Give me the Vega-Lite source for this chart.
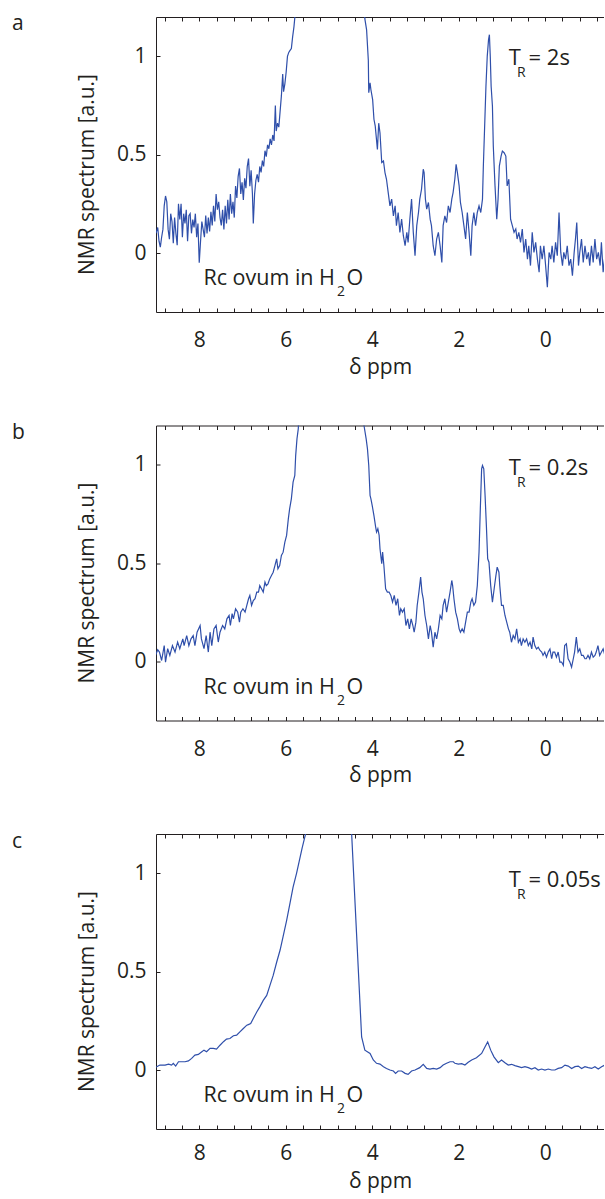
{
  "$schema": "https://vega.github.io/schema/vega-lite/v6.json",
  "usermeta": {"embedOptions": {"actions": false}},
  "autosize": {"type": "pad"},
  "padding": {"left": 12, "top": 13, "right": 0, "bottom": 3},
  "background": "white",
  "spacing": 113.5,
  "bounds": "flush",
  "config": {
    "view": {"stroke": null},
    "font": "Open Sans",
    "text": {"font": "Open Sans", "color": "#231F20"},
    "title": {"font": "Open Sans", "fontSize": 21, "fontWeight": "normal", "color": "#231F20"},
    "axis": {
      "domainColor": "#231F20", "domainWidth": 1, "tickColor": "#231F20", "tickWidth": 1, "tickSize": -4,
      "grid": false, "labelFont": "Open Sans", "labelFontSize": 21, "labelColor": "#231F20",
      "labelFlush": false, "labelOverlap": false, "titleFont": "Open Sans", "titleFontSize": 21,
      "titleFontWeight": "normal", "titleColor": "#231F20"
    }
  },
  "datasets": {
    "a": [
      {"ppm":9.00,"v":0.10},{"ppm":8.96,"v":0.13},{"ppm":8.93,"v":0.06},{"ppm":8.90,"v":0.03},{"ppm":8.87,"v":0.08},{"ppm":8.84,"v":0.12},{"ppm":8.81,"v":0.24},{"ppm":8.78,"v":0.29},{"ppm":8.75,"v":0.26},{"ppm":8.72,"v":0.12},{"ppm":8.69,"v":0.07},{"ppm":8.66,"v":0.20},{"ppm":8.63,"v":0.16},{"ppm":8.60,"v":0.05},{"ppm":8.57,"v":0.18},{"ppm":8.54,"v":0.10},{"ppm":8.51,"v":0.04},{"ppm":8.48,"v":0.25},{"ppm":8.45,"v":0.17},{"ppm":8.42,"v":0.25},{"ppm":8.39,"v":0.08},{"ppm":8.36,"v":0.20},{"ppm":8.33,"v":0.15},{"ppm":8.30,"v":0.22},{"ppm":8.27,"v":0.06},{"ppm":8.24,"v":0.19},{"ppm":8.21,"v":0.20},{"ppm":8.18,"v":0.10},{"ppm":8.15,"v":0.17},{"ppm":8.12,"v":0.13},{"ppm":8.09,"v":0.20},{"ppm":8.06,"v":0.08},{"ppm":8.03,"v":0.15},{"ppm":8.00,"v":-0.05},{"ppm":7.97,"v":0.06},{"ppm":7.94,"v":0.16},{"ppm":7.91,"v":0.12},{"ppm":7.88,"v":0.08},{"ppm":7.85,"v":0.19},{"ppm":7.82,"v":0.10},{"ppm":7.79,"v":0.18},{"ppm":7.76,"v":0.11},{"ppm":7.73,"v":0.21},{"ppm":7.70,"v":0.14},{"ppm":7.67,"v":0.24},{"ppm":7.64,"v":0.16},{"ppm":7.61,"v":0.30},{"ppm":7.58,"v":0.22},{"ppm":7.55,"v":0.26},{"ppm":7.52,"v":0.18},
      {"ppm":7.49,"v":0.14},{"ppm":7.46,"v":0.22},{"ppm":7.43,"v":0.12},{"ppm":7.40,"v":0.24},{"ppm":7.37,"v":0.15},{"ppm":7.34,"v":0.27},{"ppm":7.31,"v":0.17},{"ppm":7.28,"v":0.30},{"ppm":7.25,"v":0.20},{"ppm":7.22,"v":0.26},{"ppm":7.19,"v":0.18},{"ppm":7.16,"v":0.34},{"ppm":7.13,"v":0.28},{"ppm":7.10,"v":0.39},{"ppm":7.07,"v":0.43},{"ppm":7.04,"v":0.30},{"ppm":7.01,"v":0.36},{"ppm":6.98,"v":0.27},{"ppm":6.95,"v":0.38},{"ppm":6.92,"v":0.33},{"ppm":6.89,"v":0.44},{"ppm":6.86,"v":0.48},{"ppm":6.83,"v":0.34},{"ppm":6.80,"v":0.42},{"ppm":6.77,"v":0.30},{"ppm":6.75,"v":0.15},{"ppm":6.72,"v":0.30},{"ppm":6.69,"v":0.37},{"ppm":6.66,"v":0.40},{"ppm":6.63,"v":0.36},{"ppm":6.60,"v":0.44},{"ppm":6.57,"v":0.41},{"ppm":6.54,"v":0.47},{"ppm":6.51,"v":0.44},{"ppm":6.48,"v":0.52},{"ppm":6.45,"v":0.49},{"ppm":6.42,"v":0.55},{"ppm":6.39,"v":0.53},{"ppm":6.36,"v":0.58},{"ppm":6.33,"v":0.55},{"ppm":6.30,"v":0.60},{"ppm":6.27,"v":0.57},{"ppm":6.24,"v":0.75},{"ppm":6.22,"v":0.62},{"ppm":6.19,"v":0.66},{"ppm":6.16,"v":0.64},{"ppm":6.13,"v":0.72},{"ppm":6.10,"v":0.80},{"ppm":6.07,"v":0.91},{"ppm":6.05,"v":0.82},{"ppm":6.02,"v":0.86},{"ppm":5.99,"v":0.92},{"ppm":5.96,"v":1.00},{"ppm":5.93,"v":1.02},{"ppm":5.90,"v":1.03},{"ppm":5.87,"v":1.04},{"ppm":5.84,"v":1.10},{"ppm":5.81,"v":1.15},{"ppm":5.78,"v":1.22},{"ppm":5.74,"v":1.35},{"ppm":5.70,"v":1.6},
      {"ppm":5.6,"v":2.2},{"ppm":5.3,"v":4.0},{"ppm":5.0,"v":6.0},{"ppm":4.7,"v":5.0},{"ppm":4.4,"v":2.5},{"ppm":4.25,"v":1.5},
      {"ppm":4.17,"v":1.19},{"ppm":4.13,"v":1.135},{"ppm":4.09,"v":0.98},{"ppm":4.08,"v":0.815},{"ppm":4.05,"v":0.865},{"ppm":4.03,"v":0.83},{"ppm":3.99,"v":0.78},{"ppm":3.96,"v":0.68},{"ppm":3.93,"v":0.645},{"ppm":3.88,"v":0.527},{"ppm":3.85,"v":0.66},{"ppm":3.82,"v":0.61},{"ppm":3.78,"v":0.46},{"ppm":3.74,"v":0.468},{"ppm":3.705,"v":0.409},{"ppm":3.67,"v":0.375},{"ppm":3.63,"v":0.307},{"ppm":3.59,"v":0.24},{"ppm":3.55,"v":0.274},{"ppm":3.51,"v":0.189},{"ppm":3.47,"v":0.24},{"ppm":3.44,"v":0.139},{"ppm":3.40,"v":0.206},{"ppm":3.36,"v":0.105},{"ppm":3.32,"v":0.172},{"ppm":3.28,"v":0.088},{"ppm":3.24,"v":0.037},{"ppm":3.20,"v":0.105},{"ppm":3.17,"v":0.054},{"ppm":3.13,"v":0.172},{"ppm":3.09,"v":0.274},{"ppm":3.05,"v":0.105},{"ppm":3.01,"v":-0.014},{"ppm":2.97,"v":0.139},{"ppm":2.93,"v":0.206},{"ppm":2.90,"v":0.274},{"ppm":2.86,"v":0.324},{"ppm":2.82,"v":0.426},{"ppm":2.80,"v":0.409},{"ppm":2.77,"v":0.274},{"ppm":2.74,"v":0.223},{"ppm":2.70,"v":0.257},{"ppm":2.66,"v":0.172},{"ppm":2.63,"v":0.139},{"ppm":2.59,"v":0.037},{"ppm":2.55,"v":-0.014},{"ppm":2.51,"v":0.071},{"ppm":2.47,"v":0.105},{"ppm":2.43,"v":0.037},{"ppm":2.39,"v":-0.048},{"ppm":2.36,"v":0.139},{"ppm":2.32,"v":0.189},{"ppm":2.28,"v":0.155},{"ppm":2.24,"v":0.240},{"ppm":2.20,"v":0.206},{"ppm":2.16,"v":0.274},{"ppm":2.13,"v":0.307},{"ppm":2.09,"v":0.375},{"ppm":2.06,"v":0.451},{"ppm":2.03,"v":0.409},{"ppm":1.99,"v":0.341},{"ppm":1.96,"v":0.257},{"ppm":1.92,"v":0.206},{"ppm":1.88,"v":0.139},{"ppm":1.84,"v":0.071},{"ppm":1.80,"v":0.206},{"ppm":1.76,"v":0.105},{"ppm":1.72,"v":-0.014},{"ppm":1.69,"v":0.139},{"ppm":1.65,"v":0.206},{"ppm":1.61,"v":0.139},{"ppm":1.57,"v":0.206},{"ppm":1.53,"v":0.240},{"ppm":1.49,"v":0.206},{"ppm":1.45,"v":0.274},{"ppm":1.43,"v":0.442},{"ppm":1.40,"v":0.645},{"ppm":1.37,"v":0.848},{"ppm":1.34,"v":1.0},{"ppm":1.31,"v":1.085},{"ppm":1.29,"v":1.11},{"ppm":1.27,"v":1.0},{"ppm":1.25,"v":0.848},{"ppm":1.22,"v":0.746},{"ppm":1.20,"v":0.544},{"ppm":1.16,"v":0.341},{"ppm":1.12,"v":0.172},{"ppm":1.09,"v":0.274},{"ppm":1.06,"v":0.442},{"ppm":1.02,"v":0.493},{"ppm":0.99,"v":0.518},{"ppm":0.95,"v":0.51},{"ppm":0.91,"v":0.493},{"ppm":0.88,"v":0.341},{"ppm":0.84,"v":0.375},{"ppm":0.80,"v":0.172},{"ppm":0.76,"v":0.139},{"ppm":0.72,"v":0.105},{"ppm":0.68,"v":0.122},{"ppm":0.65,"v":0.071},{"ppm":0.61,"v":0.105},{"ppm":0.57,"v":0.054},{"ppm":0.53,"v":0.122},{"ppm":0.49,"v":0.003},{"ppm":0.45,"v":0.071},{"ppm":0.41,"v":-0.031},{"ppm":0.38,"v":0.037},{"ppm":0.34,"v":-0.064},{"ppm":0.30,"v":0.105},{"ppm":0.26,"v":0.003},{"ppm":0.22,"v":0.054},{"ppm":0.18,"v":-0.031},{"ppm":0.14,"v":-0.098},{"ppm":0.11,"v":0.037},{"ppm":0.07,"v":-0.031},{"ppm":0.03,"v":0.037},{"ppm":-0.01,"v":-0.064},{"ppm":-0.05,"v":-0.174},{"ppm":-0.09,"v":0.003},{"ppm":-0.13,"v":-0.031},{"ppm":-0.16,"v":0.037},{"ppm":-0.20,"v":-0.048},{"ppm":-0.24,"v":0.054},{"ppm":-0.28,"v":-0.014},{"ppm":-0.32,"v":0.206},{"ppm":-0.36,"v":0.003},{"ppm":-0.40,"v":-0.064},{"ppm":-0.43,"v":0.003},{"ppm":-0.47,"v":-0.031},{"ppm":-0.51,"v":0.037},{"ppm":-0.55,"v":-0.064},{"ppm":-0.59,"v":-0.031},{"ppm":-0.63,"v":-0.115},{"ppm":-0.67,"v":0.003},{"ppm":-0.70,"v":0.071},{"ppm":-0.73,"v":0.155},{"ppm":-0.77,"v":-0.064},{"ppm":-0.80,"v":0.003},{"ppm":-0.84,"v":0.071},{"ppm":-0.88,"v":-0.048},{"ppm":-0.92,"v":0.037},{"ppm":-0.96,"v":-0.031},{"ppm":-1.00,"v":0.003},{"ppm":-1.03,"v":-0.064},{"ppm":-1.07,"v":0.037},{"ppm":-1.11,"v":-0.048},{"ppm":-1.15,"v":0.071},{"ppm":-1.19,"v":-0.031},{"ppm":-1.23,"v":0.003},{"ppm":-1.27,"v":-0.064},{"ppm":-1.30,"v":0.054},{"ppm":-1.34,"v":-0.098},{"ppm":-1.38,"v":-0.014}
    ],
    "b": [
      {"ppm":9.01,"v":0.031},{"ppm":8.96,"v":0.06},{"ppm":8.92,"v":0.048},{"ppm":8.87,"v":0.005},{"ppm":8.81,"v":0.081},{"ppm":8.78,"v":-0.003},{"ppm":8.73,"v":0.065},{"ppm":8.68,"v":0.031},{"ppm":8.62,"v":0.081},{"ppm":8.56,"v":0.048},{"ppm":8.50,"v":0.099},{"ppm":8.45,"v":0.065},{"ppm":8.38,"v":0.115},{"ppm":8.35,"v":0.081},{"ppm":8.29,"v":0.132},{"ppm":8.24,"v":0.081},{"ppm":8.19,"v":0.115},{"ppm":8.14,"v":0.132},{"ppm":8.10,"v":0.081},{"ppm":8.05,"v":0.149},{"ppm":7.98,"v":0.183},{"ppm":7.95,"v":0.115},{"ppm":7.89,"v":0.065},{"ppm":7.84,"v":0.132},{"ppm":7.79,"v":0.048},{"ppm":7.75,"v":0.149},{"ppm":7.71,"v":0.081},{"ppm":7.66,"v":0.166},{"ppm":7.61,"v":0.183},{"ppm":7.56,"v":0.099},{"ppm":7.52,"v":0.149},{"ppm":7.46,"v":0.183},{"ppm":7.41,"v":0.166},{"ppm":7.36,"v":0.217},{"ppm":7.31,"v":0.234},{"ppm":7.28,"v":0.183},{"ppm":7.24,"v":0.243},{"ppm":7.21,"v":0.217},{"ppm":7.16,"v":0.268},{"ppm":7.11,"v":0.251},{"ppm":7.07,"v":0.2},{"ppm":7.04,"v":0.251},{"ppm":6.99,"v":0.268},{"ppm":6.94,"v":0.251},{"ppm":6.90,"v":0.285},{"ppm":6.86,"v":0.319},{"ppm":6.83,"v":0.336},{"ppm":6.79,"v":0.285},{"ppm":6.75,"v":0.310},{"ppm":6.71,"v":0.319},{"ppm":6.67,"v":0.353},{"ppm":6.63,"v":0.353},{"ppm":6.60,"v":0.386},{"ppm":6.56,"v":0.370},{"ppm":6.52,"v":0.353},{"ppm":6.48,"v":0.404},{"ppm":6.45,"v":0.386},{"ppm":6.41,"v":0.395},{"ppm":6.37,"v":0.420},{"ppm":6.33,"v":0.437},{"ppm":6.29,"v":0.454},{"ppm":6.25,"v":0.488},{"ppm":6.21,"v":0.522},{"ppm":6.18,"v":0.471},{"ppm":6.14,"v":0.488},{"ppm":6.10,"v":0.539},{"ppm":6.06,"v":0.556},{"ppm":6.02,"v":0.607},{"ppm":5.98,"v":0.641},{"ppm":5.94,"v":0.725},{"ppm":5.91,"v":0.776},{"ppm":5.87,"v":0.827},{"ppm":5.83,"v":0.912},{"ppm":5.79,"v":0.946},{"ppm":5.77,"v":1.047},{"ppm":5.74,"v":1.132},{"ppm":5.71,"v":1.183},{"ppm":5.68,"v":1.3},{"ppm":5.6,"v":1.7},
      {"ppm":5.3,"v":3.0},{"ppm":5.0,"v":5.0},{"ppm":4.7,"v":3.5},{"ppm":4.4,"v":2.0},{"ppm":4.22,"v":1.3},
      {"ppm":4.19,"v":1.2},{"ppm":4.14,"v":1.132},{"ppm":4.11,"v":1.081},{"ppm":4.08,"v":0.997},{"ppm":4.05,"v":0.844},{"ppm":4.03,"v":0.827},{"ppm":4.00,"v":0.793},{"ppm":3.96,"v":0.742},{"ppm":3.92,"v":0.683},{"ppm":3.90,"v":0.658},{"ppm":3.87,"v":0.675},{"ppm":3.84,"v":0.641},{"ppm":3.82,"v":0.573},{"ppm":3.78,"v":0.497},{"ppm":3.76,"v":0.556},{"ppm":3.73,"v":0.488},{"ppm":3.69,"v":0.370},{"ppm":3.65,"v":0.353},{"ppm":3.61,"v":0.353},{"ppm":3.57,"v":0.336},{"ppm":3.53,"v":0.302},{"ppm":3.49,"v":0.336},{"ppm":3.45,"v":0.285},{"ppm":3.41,"v":0.319},{"ppm":3.37,"v":0.234},{"ppm":3.34,"v":0.268},{"ppm":3.30,"v":0.251},{"ppm":3.26,"v":0.268},{"ppm":3.22,"v":0.183},{"ppm":3.18,"v":0.217},{"ppm":3.14,"v":0.166},{"ppm":3.10,"v":0.217},{"ppm":3.06,"v":0.183},{"ppm":3.03,"v":0.149},{"ppm":2.99,"v":0.200},{"ppm":2.96,"v":0.285},{"ppm":2.92,"v":0.353},{"ppm":2.88,"v":0.429},{"ppm":2.85,"v":0.353},{"ppm":2.82,"v":0.319},{"ppm":2.78,"v":0.234},{"ppm":2.74,"v":0.183},{"ppm":2.70,"v":0.115},{"ppm":2.66,"v":0.183},{"ppm":2.63,"v":0.149},{"ppm":2.59,"v":0.073},{"ppm":2.55,"v":0.149},{"ppm":2.51,"v":0.115},{"ppm":2.47,"v":0.166},{"ppm":2.43,"v":0.234},{"ppm":2.39,"v":0.217},{"ppm":2.36,"v":0.285},{"ppm":2.32,"v":0.319},{"ppm":2.28,"v":0.251},{"ppm":2.24,"v":0.302},{"ppm":2.20,"v":0.353},{"ppm":2.16,"v":0.412},{"ppm":2.14,"v":0.386},{"ppm":2.11,"v":0.319},{"ppm":2.07,"v":0.251},{"ppm":2.03,"v":0.217},{"ppm":1.99,"v":0.166},{"ppm":1.96,"v":0.149},{"ppm":1.92,"v":0.166},{"ppm":1.88,"v":0.149},{"ppm":1.84,"v":0.200},{"ppm":1.80,"v":0.251},{"ppm":1.76,"v":0.251},{"ppm":1.72,"v":0.302},{"ppm":1.69,"v":0.319},{"ppm":1.65,"v":0.285},{"ppm":1.61,"v":0.302},{"ppm":1.57,"v":0.386},{"ppm":1.53,"v":0.556},{"ppm":1.50,"v":0.777},{"ppm":1.47,"v":0.980},{"ppm":1.45,"v":0.997},{"ppm":1.42,"v":0.980},{"ppm":1.39,"v":0.844},{"ppm":1.36,"v":0.691},{"ppm":1.33,"v":0.522},{"ppm":1.30,"v":0.505},{"ppm":1.26,"v":0.386},{"ppm":1.22,"v":0.302},{"ppm":1.18,"v":0.370},{"ppm":1.14,"v":0.437},{"ppm":1.11,"v":0.480},{"ppm":1.07,"v":0.454},{"ppm":1.05,"v":0.386},{"ppm":1.01,"v":0.285},{"ppm":0.97,"v":0.285},{"ppm":0.93,"v":0.234},{"ppm":0.89,"v":0.200},{"ppm":0.85,"v":0.166},{"ppm":0.82,"v":0.149},{"ppm":0.78,"v":0.098},{"ppm":0.74,"v":0.132},{"ppm":0.70,"v":0.115},{"ppm":0.66,"v":0.166},{"ppm":0.62,"v":0.098},{"ppm":0.58,"v":0.115},{"ppm":0.55,"v":0.081},{"ppm":0.51,"v":0.115},{"ppm":0.47,"v":0.098},{"ppm":0.43,"v":0.115},{"ppm":0.39,"v":0.081},{"ppm":0.35,"v":0.098},{"ppm":0.31,"v":0.064},{"ppm":0.28,"v":0.124},{"ppm":0.24,"v":0.081},{"ppm":0.20,"v":0.064},{"ppm":0.16,"v":0.073},{"ppm":0.12,"v":0.056},{"ppm":0.08,"v":0.048},{"ppm":0.05,"v":0.031},{"ppm":0.01,"v":0.048},{"ppm":-0.03,"v":0.022},{"ppm":-0.07,"v":0.048},{"ppm":-0.11,"v":0.064},{"ppm":-0.15,"v":0.014},{"ppm":-0.18,"v":0.048},{"ppm":-0.22,"v":0.048},{"ppm":-0.26,"v":0.022},{"ppm":-0.30,"v":0.048},{"ppm":-0.34,"v":-0.003},{"ppm":-0.38,"v":-0.003},{"ppm":-0.42,"v":-0.020},{"ppm":-0.45,"v":0.081},{"ppm":-0.49,"v":0.090},{"ppm":-0.53,"v":0.014},{"ppm":-0.57,"v":-0.003},{"ppm":-0.61,"v":-0.029},{"ppm":-0.65,"v":0.014},{"ppm":-0.68,"v":0.048},{"ppm":-0.72,"v":0.124},{"ppm":-0.76,"v":0.048},{"ppm":-0.80,"v":0.064},{"ppm":-0.84,"v":0.031},{"ppm":-0.88,"v":0.031},{"ppm":-0.92,"v":0.014},{"ppm":-0.95,"v":0.014},{"ppm":-0.99,"v":0.031},{"ppm":-1.03,"v":0.014},{"ppm":-1.07,"v":0.048},{"ppm":-1.11,"v":0.022},{"ppm":-1.15,"v":0.031},{"ppm":-1.18,"v":0.048},{"ppm":-1.22,"v":0.081},{"ppm":-1.26,"v":0.031},{"ppm":-1.30,"v":0.048},{"ppm":-1.34,"v":0.064},{"ppm":-1.38,"v":0.031}
    ],
    "c": [
      {"ppm":9.02,"v":0.012},{"ppm":8.91,"v":0.025},{"ppm":8.79,"v":0.025},{"ppm":8.71,"v":0.03},{"ppm":8.64,"v":0.025},{"ppm":8.60,"v":0.034},{"ppm":8.545,"v":0.02},{"ppm":8.48,"v":0.042},{"ppm":8.41,"v":0.042},{"ppm":8.33,"v":0.042},{"ppm":8.25,"v":0.046},{"ppm":8.175,"v":0.059},{"ppm":8.10,"v":0.076},{"ppm":8.02,"v":0.079},{"ppm":7.94,"v":0.093},{"ppm":7.89,"v":0.101},{"ppm":7.83,"v":0.093},{"ppm":7.75,"v":0.110},{"ppm":7.675,"v":0.110},{"ppm":7.60,"v":0.106},{"ppm":7.52,"v":0.126},{"ppm":7.44,"v":0.144},{"ppm":7.37,"v":0.157},{"ppm":7.29,"v":0.160},{"ppm":7.21,"v":0.174},{"ppm":7.135,"v":0.177},{"ppm":7.06,"v":0.194},{"ppm":6.98,"v":0.211},{"ppm":6.90,"v":0.228},{"ppm":6.865,"v":0.231},{"ppm":6.81,"v":0.236},{"ppm":6.75,"v":0.262},{"ppm":6.67,"v":0.295},{"ppm":6.60,"v":0.321},{"ppm":6.52,"v":0.354},{"ppm":6.44,"v":0.379},{"ppm":6.365,"v":0.43},{"ppm":6.29,"v":0.481},{"ppm":6.21,"v":0.548},{"ppm":6.13,"v":0.61},{"ppm":6.06,"v":0.68},{"ppm":5.98,"v":0.76},{"ppm":5.90,"v":0.85},{"ppm":5.83,"v":0.93},{"ppm":5.75,"v":1.00},{"ppm":5.69,"v":1.06},{"ppm":5.62,"v":1.13},{"ppm":5.53,"v":1.21},{"ppm":5.4,"v":1.6},{"ppm":5.1,"v":4.0},{"ppm":4.8,"v":5.0},{"ppm":4.6,"v":2.6},{"ppm":4.50,"v":1.31},
      {"ppm":4.245,"v":0.168},{"ppm":4.17,"v":0.101},{"ppm":4.05,"v":0.084},{"ppm":3.975,"v":0.051},{"ppm":3.90,"v":0.034},{"ppm":3.82,"v":0.030},{"ppm":3.74,"v":0.017},{"ppm":3.67,"v":0.008},{"ppm":3.59,"v":0.0},{"ppm":3.51,"v":-0.005},{"ppm":3.46,"v":-0.017},{"ppm":3.40,"v":-0.005},{"ppm":3.32,"v":-0.005},{"ppm":3.24,"v":-0.017},{"ppm":3.17,"v":-0.022},{"ppm":3.09,"v":-0.005},{"ppm":3.01,"v":0.0},{"ppm":2.90,"v":0.012},{"ppm":2.82,"v":0.029},{"ppm":2.74,"v":0.008},{"ppm":2.665,"v":0.005},{"ppm":2.59,"v":0.008},{"ppm":2.51,"v":0.005},{"ppm":2.43,"v":0.012},{"ppm":2.36,"v":0.025},{"ppm":2.28,"v":0.034},{"ppm":2.20,"v":0.042},{"ppm":2.125,"v":0.042},{"ppm":2.087,"v":0.034},{"ppm":2.01,"v":0.030},{"ppm":1.93,"v":0.032},{"ppm":1.856,"v":0.025},{"ppm":1.78,"v":0.039},{"ppm":1.70,"v":0.051},{"ppm":1.59,"v":0.062},{"ppm":1.47,"v":0.084},{"ppm":1.39,"v":0.118},{"ppm":1.33,"v":0.143},{"ppm":1.26,"v":0.101},{"ppm":1.185,"v":0.067},{"ppm":1.085,"v":0.037},{"ppm":1.01,"v":0.051},{"ppm":0.93,"v":0.037},{"ppm":0.854,"v":0.025},{"ppm":0.777,"v":0.029},{"ppm":0.70,"v":0.022},{"ppm":0.62,"v":0.017},{"ppm":0.545,"v":0.012},{"ppm":0.468,"v":0.017},{"ppm":0.39,"v":0.012},{"ppm":0.314,"v":0.005},{"ppm":0.237,"v":0.012},{"ppm":0.16,"v":0.0},{"ppm":0.083,"v":0.005},{"ppm":0.006,"v":0.0},{"ppm":-0.071,"v":0.005},{"ppm":-0.148,"v":0.0},{"ppm":-0.225,"v":0.0},{"ppm":-0.30,"v":0.008},{"ppm":-0.38,"v":0.012},{"ppm":-0.457,"v":0.025},{"ppm":-0.534,"v":0.020},{"ppm":-0.611,"v":0.008},{"ppm":-0.688,"v":0.017},{"ppm":-0.765,"v":0.020},{"ppm":-0.842,"v":0.008},{"ppm":-0.919,"v":0.017},{"ppm":-0.996,"v":0.012},{"ppm":-1.073,"v":0.008},{"ppm":-1.15,"v":0.017},{"ppm":-1.227,"v":0.005},{"ppm":-1.304,"v":0.017},{"ppm":-1.381,"v":0.025}
    ]
  },
  "vconcat": [
    {
      "width": 448, "height": 295,
      "title": {"text": "a", "anchor": "start", "frame": "group", "offset": 0, "dx": -144, "dy": 34.5, "baseline": "alphabetic"},
      "resolve": {"axis": {"x": "independent"}},
      "layer": [
        {
          "data": {"name": "a"},
          "mark": {"type": "line", "clip": true, "color": "#2F4FAA", "strokeWidth": 1.2},
          "encoding": {
            "x": {"field": "ppm", "type": "quantitative", "scale": {"domain": [-1.36, 9], "reverse": true, "nice": false, "zero": false},
              "axis": {"values": [8.8,8.4,8,7.6,7.2,6.8,6.4,6,5.6,5.2,4.8,4.4,4,3.6,3.2,2.8,2.4,2,1.6,1.2,0.8,0.4,0,-0.4,-0.8,-1.2], "format": "~g", "labelExpr": "datum.value % 2 === 0 ? datum.label : ''", "labelPadding": 21.5, "title": "δ ppm", "titleBaseline": "alphabetic", "titleY": 61}},
            "y": {"field": "v", "type": "quantitative", "scale": {"domain": [-0.3, 1.2], "nice": false, "zero": false},
              "axis": {"values": [0, 0.5, 1], "format": "~g", "labelPadding": 14, "title": "NMR spectrum [a.u.]", "titleX": -69, "titleY": 157, "titleAngle": -90, "titleAlign": "center", "titleBaseline": "middle"}}
          }
        },
        {
          "data": {"values": [{}]},
          "mark": {"type": "text", "text": "T", "align": "left", "baseline": "alphabetic", "fontSize": 22},
          "encoding": {
            "x": {"datum": 0.841, "type": "quantitative", "axis": {"orient": "top", "values": [8.8,8.4,8,7.6,7.2,6.8,6.4,6,5.6,5.2,4.8,4.4,4,3.6,3.2,2.8,2.4,2,1.6,1.2,0.8,0.4,0,-0.4,-0.8,-1.2], "labels": false, "title": null}},
            "y": {"datum": 0.958, "type": "quantitative"}
          }
        },
        {
          "data": {"values": [{}]},
          "mark": {"type": "text", "text": "R", "align": "left", "baseline": "alphabetic", "fontSize": 14},
          "encoding": {"x": {"datum": 0.651, "type": "quantitative", "axis": null}, "y": {"datum": 0.896, "type": "quantitative"}}
        },
        {
          "data": {"values": [{}]},
          "mark": {"type": "text", "text": "= 2s", "align": "left", "baseline": "alphabetic", "fontSize": 22},
          "encoding": {"x": {"datum": 0.385, "type": "quantitative", "axis": null}, "y": {"datum": 0.958, "type": "quantitative"}}
        },
        {
          "data": {"values": [{}]},
          "mark": {"type": "text", "text": "Rc ovum in H", "align": "right", "baseline": "alphabetic", "fontSize": 21.5},
          "encoding": {"x": {"datum": 4.861, "type": "quantitative", "axis": null}, "y": {"datum": -0.163, "type": "quantitative"}}
        },
        {
          "data": {"values": [{}]},
          "mark": {"type": "text", "text": "2", "align": "left", "baseline": "alphabetic", "fontSize": 14},
          "encoding": {"x": {"datum": 4.815, "type": "quantitative", "axis": null}, "y": {"datum": -0.22, "type": "quantitative"}}
        },
        {
          "data": {"values": [{}]},
          "mark": {"type": "text", "text": "O", "align": "left", "baseline": "alphabetic", "fontSize": 21.5},
          "encoding": {"x": {"datum": 4.595, "type": "quantitative", "axis": null}, "y": {"datum": -0.163, "type": "quantitative"}}
        }
      ]
    },
    {
      "width": 448, "height": 295,
      "title": {"text": "b", "anchor": "start", "frame": "group", "offset": 0, "dx": -144, "dy": 34.5, "baseline": "alphabetic"},
      "resolve": {"axis": {"x": "independent"}},
      "layer": [
        {
          "data": {"name": "b"},
          "mark": {"type": "line", "clip": true, "color": "#2F4FAA", "strokeWidth": 1.2},
          "encoding": {
            "x": {"field": "ppm", "type": "quantitative", "scale": {"domain": [-1.36, 9], "reverse": true, "nice": false, "zero": false},
              "axis": {"values": [8.8,8.4,8,7.6,7.2,6.8,6.4,6,5.6,5.2,4.8,4.4,4,3.6,3.2,2.8,2.4,2,1.6,1.2,0.8,0.4,0,-0.4,-0.8,-1.2], "format": "~g", "labelExpr": "datum.value % 2 === 0 ? datum.label : ''", "labelPadding": 21.5, "title": "δ ppm", "titleBaseline": "alphabetic", "titleY": 61}},
            "y": {"field": "v", "type": "quantitative", "scale": {"domain": [-0.3, 1.2], "nice": false, "zero": false},
              "axis": {"values": [0, 0.5, 1], "format": "~g", "labelPadding": 14, "title": "NMR spectrum [a.u.]", "titleX": -69, "titleY": 157, "titleAngle": -90, "titleAlign": "center", "titleBaseline": "middle"}}
          }
        },
        {
          "data": {"values": [{}]},
          "mark": {"type": "text", "text": "T", "align": "left", "baseline": "alphabetic", "fontSize": 22},
          "encoding": {
            "x": {"datum": 0.841, "type": "quantitative", "axis": {"orient": "top", "values": [8.8,8.4,8,7.6,7.2,6.8,6.4,6,5.6,5.2,4.8,4.4,4,3.6,3.2,2.8,2.4,2,1.6,1.2,0.8,0.4,0,-0.4,-0.8,-1.2], "labels": false, "title": null}},
            "y": {"datum": 0.949, "type": "quantitative"}
          }
        },
        {
          "data": {"values": [{}]},
          "mark": {"type": "text", "text": "R", "align": "left", "baseline": "alphabetic", "fontSize": 14},
          "encoding": {"x": {"datum": 0.651, "type": "quantitative", "axis": null}, "y": {"datum": 0.887, "type": "quantitative"}}
        },
        {
          "data": {"values": [{}]},
          "mark": {"type": "text", "text": "= 0.2s", "align": "left", "baseline": "alphabetic", "fontSize": 22},
          "encoding": {"x": {"datum": 0.385, "type": "quantitative", "axis": null}, "y": {"datum": 0.949, "type": "quantitative"}}
        },
        {
          "data": {"values": [{}]},
          "mark": {"type": "text", "text": "Rc ovum in H", "align": "right", "baseline": "alphabetic", "fontSize": 21.5},
          "encoding": {"x": {"datum": 4.861, "type": "quantitative", "axis": null}, "y": {"datum": -0.163, "type": "quantitative"}}
        },
        {
          "data": {"values": [{}]},
          "mark": {"type": "text", "text": "2", "align": "left", "baseline": "alphabetic", "fontSize": 14},
          "encoding": {"x": {"datum": 4.815, "type": "quantitative", "axis": null}, "y": {"datum": -0.22, "type": "quantitative"}}
        },
        {
          "data": {"values": [{}]},
          "mark": {"type": "text", "text": "O", "align": "left", "baseline": "alphabetic", "fontSize": 21.5},
          "encoding": {"x": {"datum": 4.595, "type": "quantitative", "axis": null}, "y": {"datum": -0.163, "type": "quantitative"}}
        }
      ]
    },
    {
      "width": 448, "height": 295,
      "title": {"text": "c", "anchor": "start", "frame": "group", "offset": 0, "dx": -144, "dy": 35, "baseline": "alphabetic"},
      "resolve": {"axis": {"x": "independent"}},
      "layer": [
        {
          "data": {"name": "c"},
          "mark": {"type": "line", "clip": true, "color": "#2F4FAA", "strokeWidth": 1.2},
          "encoding": {
            "x": {"field": "ppm", "type": "quantitative", "scale": {"domain": [-1.36, 9], "reverse": true, "nice": false, "zero": false},
              "axis": {"values": [8.8,8.4,8,7.6,7.2,6.8,6.4,6,5.6,5.2,4.8,4.4,4,3.6,3.2,2.8,2.4,2,1.6,1.2,0.8,0.4,0,-0.4,-0.8,-1.2], "format": "~g", "labelExpr": "datum.value % 2 === 0 ? datum.label : ''", "labelPadding": 17, "title": "δ ppm", "titleBaseline": "alphabetic", "titleY": 58}},
            "y": {"field": "v", "type": "quantitative", "scale": {"domain": [-0.3, 1.2], "nice": false, "zero": false},
              "axis": {"values": [0, 0.5, 1], "format": "~g", "labelPadding": 14, "title": "NMR spectrum [a.u.]", "titleX": -69, "titleY": 157, "titleAngle": -90, "titleAlign": "center", "titleBaseline": "middle"}}
          }
        },
        {
          "data": {"values": [{}]},
          "mark": {"type": "text", "text": "T", "align": "left", "baseline": "alphabetic", "fontSize": 22},
          "encoding": {
            "x": {"datum": 0.841, "type": "quantitative", "axis": {"orient": "top", "values": [8.8,8.4,8,7.6,7.2,6.8,6.4,6,5.6,5.2,4.8,4.4,4,3.6,3.2,2.8,2.4,2,1.6,1.2,0.8,0.4,0,-0.4,-0.8,-1.2], "labels": false, "title": null}},
            "y": {"datum": 0.933, "type": "quantitative"}
          }
        },
        {
          "data": {"values": [{}]},
          "mark": {"type": "text", "text": "R", "align": "left", "baseline": "alphabetic", "fontSize": 14},
          "encoding": {"x": {"datum": 0.651, "type": "quantitative", "axis": null}, "y": {"datum": 0.871, "type": "quantitative"}}
        },
        {
          "data": {"values": [{}]},
          "mark": {"type": "text", "text": "= 0.05s", "align": "left", "baseline": "alphabetic", "fontSize": 22},
          "encoding": {"x": {"datum": 0.385, "type": "quantitative", "axis": null}, "y": {"datum": 0.933, "type": "quantitative"}}
        },
        {
          "data": {"values": [{}]},
          "mark": {"type": "text", "text": "Rc ovum in H", "align": "right", "baseline": "alphabetic", "fontSize": 21.5},
          "encoding": {"x": {"datum": 4.861, "type": "quantitative", "axis": null}, "y": {"datum": -0.163, "type": "quantitative"}}
        },
        {
          "data": {"values": [{}]},
          "mark": {"type": "text", "text": "2", "align": "left", "baseline": "alphabetic", "fontSize": 14},
          "encoding": {"x": {"datum": 4.815, "type": "quantitative", "axis": null}, "y": {"datum": -0.22, "type": "quantitative"}}
        },
        {
          "data": {"values": [{}]},
          "mark": {"type": "text", "text": "O", "align": "left", "baseline": "alphabetic", "fontSize": 21.5},
          "encoding": {"x": {"datum": 4.595, "type": "quantitative", "axis": null}, "y": {"datum": -0.163, "type": "quantitative"}}
        }
      ]
    }
  ]
}
